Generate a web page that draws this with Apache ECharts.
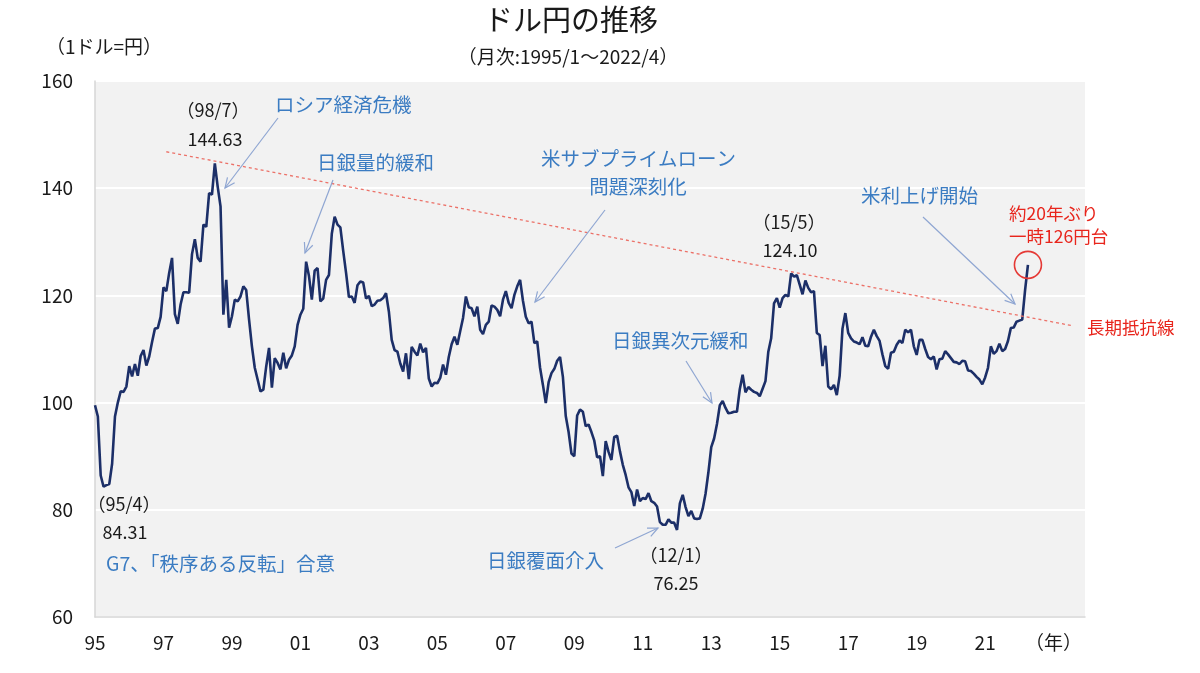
<!DOCTYPE html>
<html>
<head>
<meta charset="utf-8">
<title>ドル円の推移</title>
<script src="https://cdn.jsdelivr.net/npm/echarts@6.0.0/dist/echarts.min.js"></script>
<style>
  html, body { margin: 0; padding: 0; background: #fff; }
  #chart { width: 1200px; height: 673px; }
</style>
</head>
<body>
<div id="chart"></div>
<script>
// 月末値 (1ドル=円), 1995/1 - 2022/4
const rates1995to1999 = [
  99.5, 97.4, 86.4, 84.31, 84.6, 84.8, 88.6, 97.4, 100.0, 102.1, 102.0, 103.0,
  106.8, 104.9, 107.2, 105.0, 108.7, 109.8, 106.9, 108.6, 111.3, 113.8, 113.9, 116.0,
  121.5, 120.8, 124.2, 127.0, 116.5, 114.7, 118.3, 120.6, 120.6, 120.5, 127.7, 130.5,
  127.0, 126.3, 133.2, 132.8, 139.1, 138.8, 144.63, 140.3, 136.6, 116.4, 122.9, 114.0,
  116.1, 119.2, 118.9, 119.8, 121.7, 121.0, 115.5, 110.5, 106.5, 104.3, 102.1, 102.4
];
const rates2000to2009 = [
  106.7, 110.2, 102.8, 108.3, 107.4, 106.2, 109.3, 106.4, 108.0, 108.8, 110.5, 114.5,
  116.4, 117.5, 126.3, 123.6, 119.2, 124.6, 125.1, 118.9, 119.4, 122.9, 123.8, 131.5,
  134.7, 133.2, 132.7, 128.3, 124.2, 119.7, 119.8, 118.6, 121.9, 122.6, 122.4, 119.4,
  119.9, 118.0, 118.3, 119.0, 119.1, 119.5, 120.4, 117.0, 111.7, 109.8, 109.5, 107.3,
  105.8, 109.2, 104.4, 110.4, 109.5, 108.8, 111.0, 109.4, 110.2, 104.5, 103.0, 103.7,
  103.6, 104.6, 107.1, 105.2, 108.5, 110.9, 112.3, 110.8, 113.3, 115.8, 119.8, 117.8,
  117.6, 116.1, 117.9, 113.6, 112.8, 114.5, 115.1, 118.1, 117.9, 117.3, 116.1, 119.2,
  120.8, 118.6, 117.6, 120.1, 121.7, 122.9, 119.0, 116.0, 114.8, 115.1, 111.1, 111.4,
  106.5, 103.3, 99.9, 103.8, 105.5, 106.3, 107.8, 108.5, 104.8, 97.5, 94.5, 90.5,
  90.0, 97.6, 98.7, 98.3, 95.6, 95.9, 94.5, 92.9, 89.8, 90.0, 86.3, 92.8
];
const rates2010to2019 = [
  90.8, 89.3, 93.6, 93.8, 90.9, 88.4, 86.5, 84.2, 83.3, 80.7, 83.8, 81.6,
  82.2, 82.0, 83.1, 81.6, 81.3, 80.6, 77.7, 77.2, 77.2, 78.2, 77.6, 77.6,
  76.25, 81.2, 82.8, 80.5, 78.8, 79.8, 78.4, 78.3, 78.4, 80.2, 83.0, 87.0,
  91.7, 93.3, 96.0, 99.5, 100.3, 99.0, 98.0, 98.1, 98.3, 98.3, 102.5, 105.2,
  101.9, 102.9, 102.4, 102.0, 101.8, 101.2, 102.6, 104.0, 109.5, 112.0, 118.5, 119.5,
  117.7, 119.5, 120.1, 119.8, 124.1, 123.5, 123.8, 122.0, 120.2, 122.8, 121.4, 120.6,
  120.8, 113.0, 112.6, 106.8, 110.6, 103.0, 102.5, 103.3, 101.4, 105.0, 113.8, 116.7,
  113.0, 112.0, 111.4, 111.2, 110.9, 112.2, 110.6, 110.5, 112.3, 113.6, 112.4, 111.5,
  109.0, 106.8, 106.3, 109.3, 109.5, 110.8, 111.6, 111.1, 113.6, 113.1, 113.6, 110.5,
  108.9, 111.7, 111.7, 110.0, 108.5, 108.1, 108.6, 106.2, 108.1, 108.2, 109.6, 109.0
];
const rates2020to2022 = [
  108.3, 107.6, 107.5, 107.2, 107.8, 107.7, 106.0, 105.9, 105.4, 104.8, 104.3, 103.4,
  104.7, 106.5, 110.5, 109.1, 109.6, 111.0, 109.6, 110.0, 111.5, 113.9, 114.0, 115.1,
  115.3, 115.5, 121.0, 125.7
];

// 長期抵抗線 (始点・終点)
const trendLine = [['1997/2', 146.8], ['2023/8', 114.3]];
const latestPoint = ['2022/4', 125.7];
const yTicks = { min: 60, max: 160, step: 20 };

// 軸は2023年末まで (右側に余白)
const months = [];
for (let y = 1995; y <= 2023; y++) {
  for (let m = 1; m <= 12; m++) months.push(y + '/' + m);
}
const rates = [].concat(rates1995to1999, rates2000to2009, rates2010to2019, rates2020to2022);

const FONT = '"Noto Sans CJK JP", sans-serif';
const BLUE = '#3b7cc2';
const RED = '#e8251c';
const INK = '#1a1a1a';
const ARROW = '#8fa6d2';

function txt(x, y, text, size, color, align) {
  return {
    type: 'text', x: x, y: y, z: 100, silent: true,
    style: {
      text: text, fill: color, fontSize: size, fontFamily: FONT,
      align: align || 'left', textAlign: align || 'left',
      verticalAlign: 'middle', textVerticalAlign: 'middle'
    }
  };
}

function arrow(x1, y1, x2, y2) {
  const a = Math.atan2(y2 - y1, x2 - x1);
  const L = 11, w = 0.42;
  return [
    { type: 'line', z: 100, silent: true, shape: { x1: x1, y1: y1, x2: x2, y2: y2 },
      style: { stroke: ARROW, lineWidth: 1.2 } },
    { type: 'polyline', z: 100, silent: true,
      shape: { points: [
        [x2 - L * Math.cos(a - w), y2 - L * Math.sin(a - w)],
        [x2, y2],
        [x2 - L * Math.cos(a + w), y2 - L * Math.sin(a + w)]
      ] },
      style: { stroke: ARROW, lineWidth: 1.2, fill: null } }
  ];
}

const graphics = [
  txt(571, 20, 'ドル円の推移', 29, INK, 'center'),
  txt(568, 57, '（月次:1995/1～2022/4）', 19, INK, 'center'),
  txt(104, 47, '（1ドル=円）', 19, INK, 'center'),

  txt(213, 110, '（98/7）', 18, INK, 'center'),
  txt(215, 139, '144.63', 18, INK, 'center'),
  txt(275, 105, 'ロシア経済危機', 19.5, BLUE),
  txt(317, 163, '日銀量的緩和', 19.5, BLUE),
  txt(541, 159, '米サブプライムローン', 19.5, BLUE),
  txt(638, 187, '問題深刻化', 19.5, BLUE, 'center'),
  txt(789, 222, '（15/5）', 18, INK, 'center'),
  txt(790, 250, '124.10', 18, INK, 'center'),
  txt(861, 196, '米利上げ開始', 19.5, BLUE),
  txt(1009, 213, '約20年ぶり', 17.5, RED),
  txt(1009, 236, '一時126円台', 17.5, RED),
  txt(1087, 327, '長期抵抗線', 17.5, RED),
  txt(612, 341, '日銀異次元緩和', 19.5, BLUE),
  txt(487, 561, '日銀覆面介入', 19.5, BLUE),
  txt(676, 555, '（12/1）', 18, INK, 'center'),
  txt(676, 583, '76.25', 18, INK, 'center'),
  txt(124, 504, '（95/4）', 18, INK, 'center'),
  txt(125, 532, '84.31', 18, INK, 'center'),
  txt(106, 564, 'G7、「秩序ある反転」合意', 19.5, BLUE)
].concat(
  arrow(278, 118, 225, 188),
  arrow(333, 180, 305, 253),
  arrow(605, 210, 535, 302),
  arrow(923, 217, 1015, 304),
  arrow(686, 361, 712, 403),
  arrow(615, 548, 658, 528)
);

const chart = echarts.init(document.getElementById('chart'));
chart.setOption({
  backgroundColor: '#ffffff',
  animation: false,
  textStyle: { fontFamily: FONT },
  grid: {
    left: 95, right: 115, top: 81, bottom: 56,
    show: true, backgroundColor: '#f2f2f2', borderWidth: 0
  },
  xAxis: {
    type: 'category',
    data: months,
    boundaryGap: false,
    axisLine: { show: true, lineStyle: { color: '#d6d6d6', width: 1.5 } },
    axisTick: { show: false },
    splitLine: { show: false },
    axisLabel: {
      interval: function (i) { return i % 24 === 0; },
      formatter: function (v) {
        const y = v.split('/')[0];
        return y === '2023' ? '（年）' : y.slice(2);
      },
      color: INK, fontSize: 19, margin: 16, fontFamily: FONT
    }
  },
  yAxis: {
    type: 'value',
    min: yTicks.min, max: yTicks.max, interval: yTicks.step,
    axisLine: { show: true, lineStyle: { color: '#d6d6d6', width: 1.5 } },
    axisTick: { show: false },
    splitLine: { show: true, lineStyle: { color: '#ffffff', width: 2 } },
    axisLabel: { color: INK, fontSize: 19, margin: 22, fontFamily: FONT }
  },
  series: [{
    type: 'line',
    data: rates,
    showSymbol: false,
    silent: true,
    lineStyle: { color: '#1c2f68', width: 2.6 },
    markLine: {
      silent: true,
      symbol: 'none',
      label: { show: false },
      lineStyle: { color: '#ec7168', width: 1.3, type: [3, 3] },
      data: [[{ coord: trendLine[0] }, { coord: trendLine[1] }]]
    },
    markPoint: {
      silent: true,
      symbol: 'circle',
      symbolSize: 27,
      label: { show: false },
      itemStyle: { color: 'rgba(0,0,0,0)', borderColor: '#e53935', borderWidth: 1.6 },
      data: [{ coord: latestPoint }]
    }
  }],
  graphic: graphics
});
</script>
</body>
</html>
